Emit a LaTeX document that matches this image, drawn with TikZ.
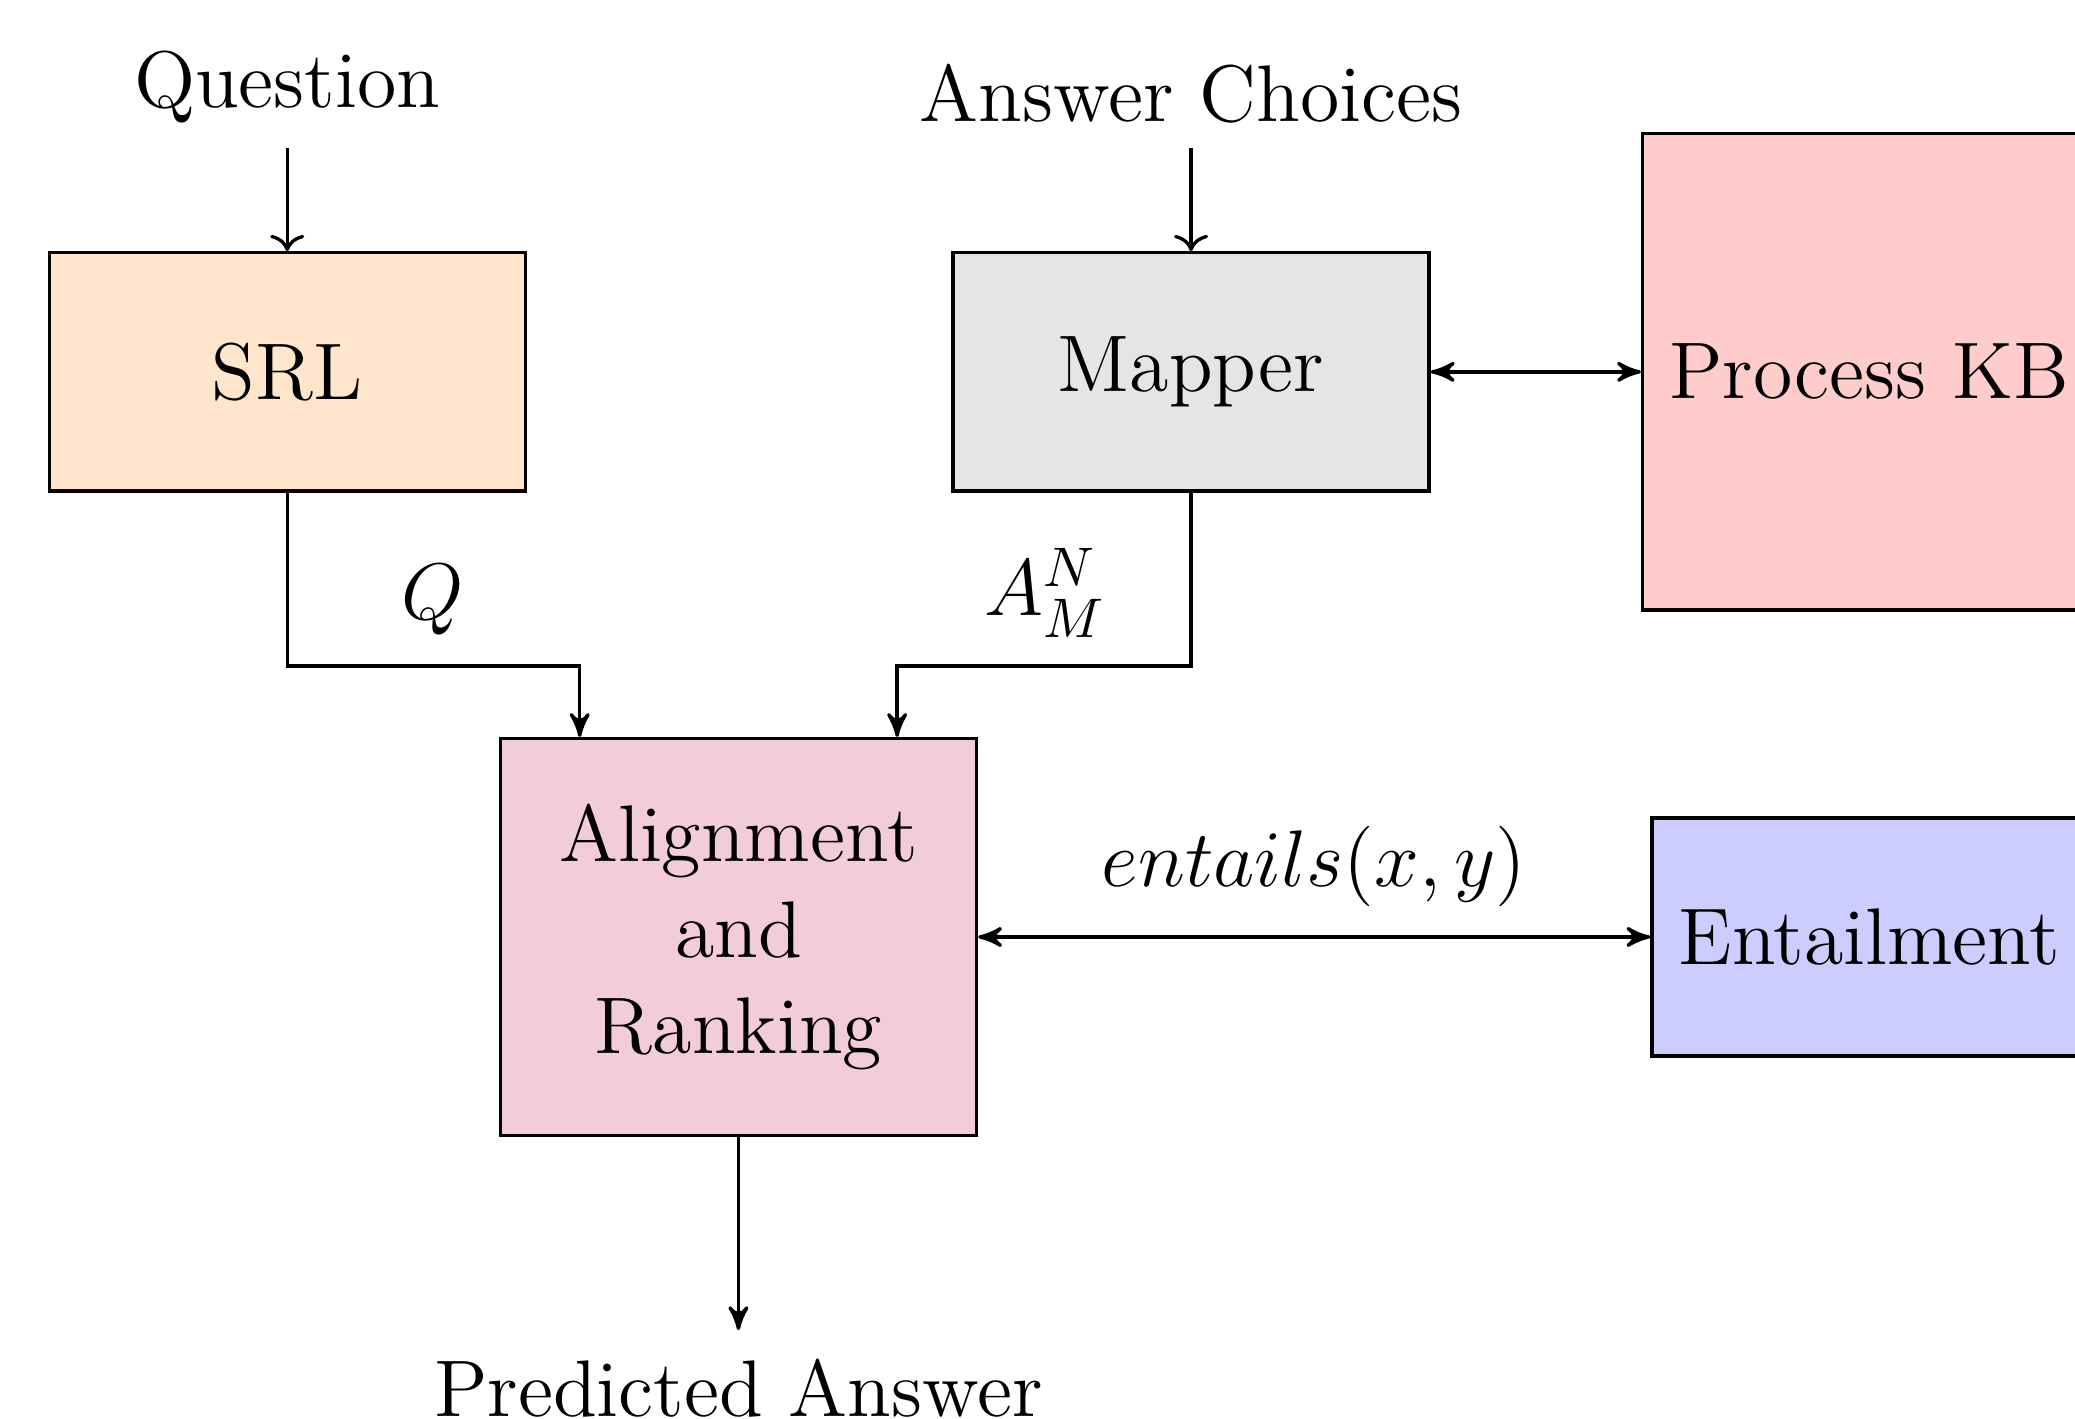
\documentclass[tikz,border=0pt]{standalone}
\usepackage{amsmath,amssymb}
\usetikzlibrary{positioning, arrows, arrows.meta, calc}

\begin{document}
\begin{tikzpicture}[font=\Large]
	
	% 定义样式
	\tikzset{
		box/.style = {
			draw, semithick,
			minimum width = 3cm,
			minimum height = 1.5cm,
			align = center
		},
		wide/.style = {minimum width = 0pt, inner xsep = 0.167cm, anchor = west},
		io/.style = {inner sep = 0.15cm},
		flow/.style = {semithick, -stealth'},
		both/.style = {semithick, stealth'-stealth'},
		feed/.style = {semithick, ->}
	}
	
	% 画布
	\useasboundingbox (0,0) rectangle (13.075,-8.939);
	
	% 方框
	\node[box, fill=orange!20] (srl) at (1.81,-2.343) {SRL};
	\node[box, fill=gray!20] (mapper) at (7.505,-2.343) {Mapper};
	\node[box, wide, fill=red!20, minimum height=3cm] (kb) at (10.34,-2.343) {Process KB};
	\node[box, fill=purple!20, minimum height=2.5cm] (align) at (4.653,-5.904) {Alignment\\[-0.8pt]and\\[-0.8pt]Ranking};
	\node[box, wide, fill=blue!20] (entail) at (10.399,-5.904) {Entailment};
	
	% 输入输出
	\node[io, anchor=south] (question) at (1.81,-0.934) {Question};
	\node[io, anchor=south] (choices) at (7.505,-0.934) {Answer Choices};
	\node[io, anchor=north, inner sep=0.175cm] (predicted) at (4.653,-8.381) {Predicted Answer};
	
	% 箭头
	\draw[feed] (question) -- (srl);
	\draw[feed] (choices) -- (mapper);
	\draw[flow] (srl.south) -- ++(0,-1.092) -| ([xshift=-1cm]align.north);
	\draw[flow] (mapper.south) -- ++(0,-1.092) -| ([xshift=1cm]align.north);
	\draw[flow] (align) -- (predicted);
	\draw[both] (mapper) -- (kb);
	\draw[both] (align) -- (entail);
	
	% 标签
	\node (qlabel) at (2.727,-3.778) {$Q$};
	\node (alabel) at (6.588,-3.736) {$A_M^N$};
	\node (elabel) at (8.28,-5.462) {$entails(x,y)$};
	
\end{tikzpicture}
\end{document}
